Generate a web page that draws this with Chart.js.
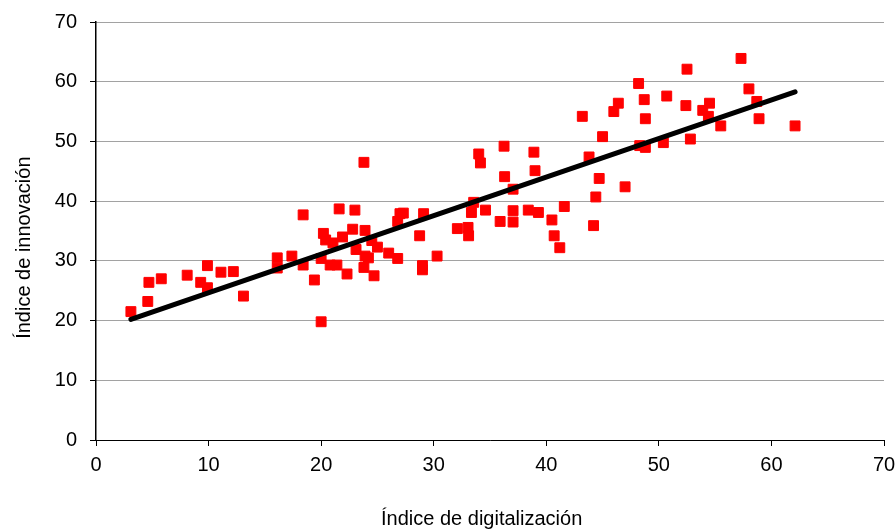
<!DOCTYPE html>
<html lang="es">
<head>
    <meta charset="UTF-8">
    <title>Índice de digitalización vs innovación</title>
    <script src="https://cdn.jsdelivr.net/npm/chart.js"></script>
    <style>
        body {
            margin: 0;
            background: #fff;
        }
        .wrap {
            width: 896px;
            height: 531px;
            position: relative;
        }
    </style>
</head>
<body>
    <div class="wrap"><canvas id="scatterChart"></canvas></div>

    <script>
        // values
        const digitalizacion = [3.1, 4.6, 4.7, 5.8, 8.1, 9.3, 9.9, 9.9, 11.1, 12.2, 13.1, 16.1, 16.1, 17.4, 18.4, 18.4, 19.4, 20.0, 20.0, 20.2,
            20.4, 20.8, 21.05, 21.4, 21.6, 21.9, 22.3, 22.8, 23.0, 23.1, 23.8, 23.9, 23.8, 23.9, 24.2, 24.5, 24.7, 25.0, 26.0, 26.8,
            26.8, 27.0, 27.3, 28.75, 29.0, 29.0, 29.1, 30.3, 32.1, 33.05, 33.1, 33.35, 33.55, 34.0, 34.15, 34.6, 35.9, 36.25, 36.3, 37.05,
            37.05, 37.05, 38.4, 38.9, 39.0, 39.3, 40.5, 40.7, 41.2, 41.6, 43.2, 43.8, 44.2, 44.4, 44.7, 45.0, 46.0, 46.4, 47.0, 48.2,
            48.3, 48.7, 48.8, 48.8, 50.4, 50.7, 52.4, 52.5, 52.8, 53.9, 54.4, 54.5, 55.5, 57.3, 58.0, 58.7, 58.9, 62.1];
        const innovacion = [21.5, 23.2, 26.4, 27.0, 27.6, 26.4, 29.2, 25.5, 28.1, 28.2, 24.1, 30.5, 28.8, 30.8, 37.7, 29.3, 26.8, 19.8, 30.4, 34.6,
            33.5, 29.3, 33.0, 29.3, 38.7, 34.0, 27.8, 35.3, 38.5, 31.9, 46.5, 35.1, 28.9, 30.8, 30.5, 33.4, 27.5, 32.3, 31.3, 30.4,
            36.6, 37.9, 38.0, 34.2, 29.2, 28.5, 37.9, 30.8, 35.4, 35.6, 34.2, 38.1, 39.8, 47.9, 46.4, 38.5, 36.6, 49.2, 44.1, 42.0,
            38.4, 36.5, 38.5, 48.2, 45.1, 38.1, 36.85, 34.2, 32.2, 39.1, 54.2, 47.4, 35.9, 40.7, 43.8, 50.8, 55.0, 56.4, 42.4, 59.7,
            49.3, 57.0, 53.8, 49.0, 49.8, 57.6, 56.0, 62.1, 50.4, 55.2, 54.2, 56.4, 52.6, 63.9, 58.8, 56.7, 53.8, 52.6];

        // trend line end points
        const trendX = [3.1, 62.1];
        const trendY = [20.2, 58.3];

        const tickValues = [0, 10, 20, 30, 40, 50, 60, 70];

        const points = digitalizacion.map((x, i) => ({ x: x, y: innovacion[i] }));
        const trend = trendX.map((x, i) => ({ x: x, y: trendY[i] }));

        const font = { family: "'Liberation Sans', Arial, sans-serif", size: 20 };

        function setTicks(scale) {
            scale.ticks = tickValues.map(v => ({ value: v }));
        }

        new Chart(document.getElementById("scatterChart"), {
            type: "scatter",
            data: {
                datasets: [
                    {
                        label: "Tendencia",
                        data: trend,
                        showLine: true,
                        borderColor: "#000",
                        borderWidth: 5,
                        borderCapStyle: "round",
                        pointRadius: 0
                    },
                    {
                        label: "Países",
                        data: points,
                        pointStyle: "rect",
                        pointRadius: 7,
                        pointBorderWidth: 1,
                        backgroundColor: "#ff0000",
                        borderColor: "#ff0000"
                    }
                ]
            },
            options: {
                responsive: true,
                maintainAspectRatio: false,
                animation: false,
                layout: { padding: { top: 22, right: 12, left: 0, bottom: 0 } },
                plugins: {
                    legend: { display: false },
                    tooltip: { enabled: false }
                },
                scales: {
                    x: {
                        min: 0,
                        max: 70,
                        afterBuildTicks: setTicks,
                        afterFit: s => { s.height = 91; s.paddingRight = 0; s.paddingLeft = 0; },
                        grid: { drawOnChartArea: false, tickLength: 6, tickColor: "#000" },
                        border: { color: "#000", width: 1 },
                        ticks: { color: "#000", font: font, padding: 7, maxRotation: 0 },
                        title: {
                            display: true,
                            text: "Índice de digitalización\u00a0\u00a0\u00a0",
                            color: "#000",
                            font: font,
                            padding: { top: 0, bottom: 0 }
                        }
                    },
                    y: {
                        min: 0,
                        max: 70,
                        afterBuildTicks: setTicks,
                        afterFit: s => { s.width = 96; s.paddingTop = 0; s.paddingBottom = 0; },
                        grid: { color: "#444", tickLength: 6, tickColor: "#000" },
                        border: { color: "#000", width: 1.5, dash: [1, 1] },
                        ticks: { color: "#000", font: font, padding: 13 },
                        title: {
                            display: true,
                            text: "Índice de innovación\u00a0\u00a0\u00a0\u00a0\u00a0\u00a0",
                            color: "#000",
                            font: font,
                            padding: { top: 12, bottom: 0 }
                        }
                    }
                }
            }
        });
    </script>
</body>
</html>
